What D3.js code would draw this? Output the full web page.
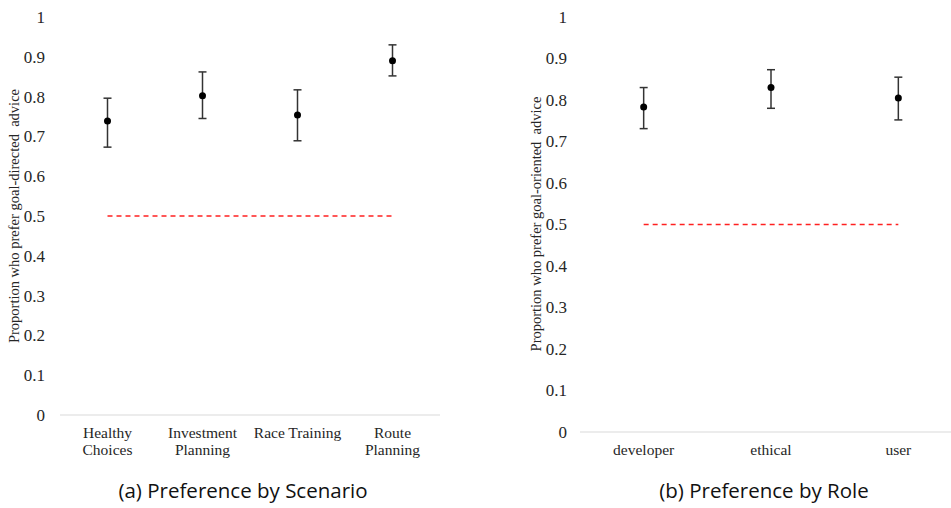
<!DOCTYPE html>
<html>
<head>
<meta charset="utf-8">
<script src="https://cdn.jsdelivr.net/npm/d3@7"></script>
<style>
	body { margin: 0; background: #fff; }
</style>
</head>
<body>
<svg id="chart" width="951" height="508"></svg>
<script>
// --- DATA --- //
var scenarios = ["Healthy\nChoices", "Investment\nPlanning", "Race Training", "Route\nPlanning"],
	scenarioMean = [0.739, 0.802, 0.754, 0.890],
	scenarioLow = [0.673, 0.745, 0.689, 0.852],
	scenarioHigh = [0.796, 0.862, 0.817, 0.930];

var roles = ["developer", "ethical", "user"],
	roleMean = [0.783, 0.830, 0.805],
	roleLow = [0.731, 0.780, 0.752],
	roleHigh = [0.830, 0.873, 0.855];

var yTicks = [0, 0.1, 0.2, 0.3, 0.4, 0.5, 0.6, 0.7, 0.8, 0.9, 1],
	chanceLevel = 0.5;

var serif = "'Liberation Serif', Tinos, 'DejaVu Serif', serif",
	sans = "'Open Sans', Lato, sans-serif";

var svg = d3.select("#chart");

// Draws one dot-and-whisker panel
function drawPanel(opts) {
	var g = svg.append("g"),
		x = d3.scaleBand().domain(opts.cats).range([opts.x0, opts.x1]),
		y = d3.scaleLinear().domain([0, 1]).range([opts.yBottom, opts.yTop]);

	var rows = opts.cats.map(function(c, i) {
		return { cat: c, mean: opts.mean[i], lo: opts.low[i], hi: opts.high[i] };
	});

	// y tick labels (no axis line)
	g.selectAll(".ylab").data(yTicks).enter().append("text")
		.attr("font-family", serif).attr("font-size", 17).attr("fill", "#262626")
		.attr("x", opts.tickX)
		.attr("y", function(d) { return y(d); })
		.attr("dy", "0.35em")
		.attr("text-anchor", "end")
		.text(function(d) { return String(d); });

	// y axis title
	g.append("text")
		.style("font-family", serif).style("font-size", "14.5px").style("fill", "#262626")
		.attr("transform", "translate(" + opts.titleX + "," + opts.titleY + ") rotate(-90)")
		.attr("text-anchor", "middle")
		.style("white-space", "pre")
		.text(opts.title);

	// baseline
	g.append("line")
		.attr("x1", opts.x0).attr("x2", opts.x1)
		.attr("y1", y(0)).attr("y2", y(0))
		.attr("stroke", "#d9d9d9").attr("stroke-width", 1);

	// category labels, may wrap on two lines
	var cx = function(d) { return x(d) + x.bandwidth() / 2; };
	var labs = g.selectAll(".xlab").data(opts.cats).enter().append("text")
		.style("font-family", serif).style("font-size", "15.5px").style("fill", "#262626")
		.attr("text-anchor", "middle")
		.attr("x", cx)
		.attr("y", y(0) + 23);
	labs.each(function(d) {
		var t = d3.select(this);
		d.split("\n").forEach(function(line, k) {
			t.append("tspan").attr("x", cx(d)).attr("dy", k === 0 ? 0 : 17).text(line);
		});
	});

	// chance line
	g.append("line")
		.attr("x1", cx(opts.cats[0])).attr("x2", cx(opts.cats[opts.cats.length - 1]))
		.attr("y1", y(chanceLevel)).attr("y2", y(chanceLevel))
		.attr("stroke", "#ff2020").attr("stroke-width", 1.3)
		.attr("stroke-dasharray", "5,4");

	// whiskers
	var pts = g.selectAll(".pt").data(rows).enter().append("g")
		.attr("transform", function(d) { return "translate(" + cx(d.cat) + ",0)"; });
	pts.append("line")
		.attr("y1", function(d) { return y(d.lo); })
		.attr("y2", function(d) { return y(d.hi); })
		.attr("stroke", "#333").attr("stroke-width", 1.5);
	["lo", "hi"].forEach(function(k) {
		pts.append("line")
			.attr("x1", -4).attr("x2", 4)
			.attr("y1", function(d) { return y(d[k]); })
			.attr("y2", function(d) { return y(d[k]); })
			.attr("stroke", "#333").attr("stroke-width", 1.5);
	});
	pts.append("circle")
		.attr("cy", function(d) { return y(d.mean); })
		.attr("r", 3.5)
		.attr("fill", "#000");

	// caption
	svg.append("text")
		.style("font-family", sans).style("font-size", "20.5px").style("fill", "#111")
		.attr("x", opts.capX).attr("y", 498)
		.attr("text-anchor", "middle")
		.text(opts.caption);
}

drawPanel({
	cats: scenarios, mean: scenarioMean, low: scenarioLow, high: scenarioHigh,
	x0: 60, x1: 440, yTop: 17, yBottom: 415,
	tickX: 45, titleX: 19, titleY: 216,
	title: "Proportion who prefer goal-directed  advice",
	capX: 243, caption: "(a) Preference by Scenario"
});

drawPanel({
	cats: roles, mean: roleMean, low: roleLow, high: roleHigh,
	x0: 580, x1: 962, yTop: 17, yBottom: 432,
	tickX: 567, titleX: 541, titleY: 224,
	title: "Proportion who prefer goal-oriented  advice",
	capX: 764, caption: "(b) Preference by Role"
});
</script>
</body>
</html>
